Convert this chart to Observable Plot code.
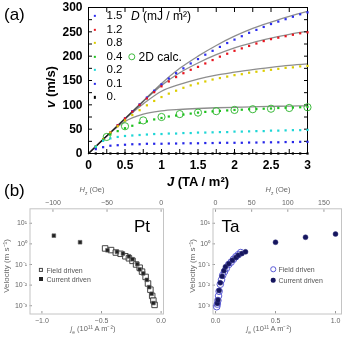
<!DOCTYPE html>
<html><head><meta charset="utf-8">
<script src="https://cdn.jsdelivr.net/npm/d3@7"></script>
<script src="https://cdn.jsdelivr.net/npm/@observablehq/plot@0.6"></script>
<style>
html,body{margin:0;padding:0;background:#fff;}
#root{position:relative;width:350px;height:338px;overflow:hidden;font-family:"Liberation Sans",Arial,sans-serif;color:#000;}
.abs{position:absolute;white-space:nowrap;line-height:1;}
#root svg{position:absolute;overflow:visible;}
</style></head><body><div id="root"></div>
<script>
// ---------- Panel (a) data ----------
const J = [0.1,0.2,0.3,0.4,0.5,0.6,0.7,0.8,0.9,1.0,1.1,1.2,1.3,1.4,1.5,1.6,1.7,1.8,1.9,2.0,2.1,2.2,2.3,2.4,2.5,2.6,2.7,2.8,2.9,3.0];
const v15 = [14,29,43,58,72,87,101,115,129,142,154,165,175,185,194,203,211,219,227,234,241,248,254,260,266,271,276,281,286,290];
const v12 = [14,29,43,58,72,86,100,113,126,138,148,157,165,172,178,185,192,199,205,211,216,221,226,231,235,238,241,244,247,249];
const v08 = [14,29,43,56,68,79,89,99,108,116,123,129,135,140,144,148,152,155,158,161,163,166,168,170,172,174,176,177,179,180];
const v04 = [14,28,39,46,52,57,63,66,70,73,76,78,80,82,84,85.5,86.5,87.5,88.5,89.5,90,91,91.5,92,92.5,93.5,94,94.5,95,96];
const v02 = [14,26,31,34,36,37,38,39,40,40,41,41,42,42,43,43,43.5,44,44,45,45,45.5,46,46,47,47,47.5,48,48,48.5];
const v01 = [9,13,16,17,18,19,19,20,20,20,20.5,20.5,21,21,21,21.5,21.5,22,22,22,22,22.5,22.5,23,23,23,23.5,23.5,24,24];
const v00 = [0,0,0,0,0,0,0,0,0,0,0,0,0,0,0,0,0,0,0,0,0,0,0,0,0,0,0,0,0,0];
const seriesLabels = ["1.5","1.2","0.8","0.4","0.2","0.1","0."];
const seriesColors = ["#2d2df0","#e8141e","#dccd00","#1fc21f","#1ed6d6","#2626e8","#000000"];
const seriesValues = [v15,v12,v08,v04,v02,v01,v00];

const lineJ = [0,0.25,0.5,0.75,1,1.25,1.5,1.75,2,2.25,2.5,2.75,3];
const line15 = [0,36,72,108,144,175,200,222,241,257,270,282,292];
const line12 = [0,36,72,107,140,166,186,203,217,228,237,245,251];
const line08 = [0,36,71,102,128,142,153,161,167,172.5,177,181,184];
const line04 = [0,36,66,81,87.5,90.5,92.5,94,95,96,96.8,97.4,98];

const calcJ = [0.25,0.5,0.75,1,1.25,1.5,1.75,2,2.25,2.5,2.75,3];
const calcV = [34,56,68,75,81,84,87,89.5,91,92,93.5,95];

const yTicksA = [0,50,100,150,200,250,300];
const xTicksA = [0,0.5,1,1.5,2,2.5,3];
const yMinorA = [25,50,75,100,125,150,175,200,225,250,275];
const xMinorA = [0.25,0.5,0.75,1,1.25,1.5,1.75,2,2.25,2.5,2.75];

// ---------- Panel (b) data ----------
const ptCurJ = [-0.9,-0.68,-0.45,-0.37,-0.32,-0.27,-0.24,-0.20,-0.18,-0.15,-0.12,-0.10,-0.08,-0.065];
const ptCurV = [2.5,1.2,0.49,0.41,0.34,0.25,0.18,0.105,0.058,0.037,0.018,0.008,0.0038,0.00135];
const ptFieldJ = [-0.47,-0.42,-0.38,-0.34,-0.30,-0.27,-0.24,-0.21,-0.18,-0.16,-0.13,-0.11,-0.09,-0.075,-0.065,-0.055];
const ptFieldV = [0.6,0.5,0.38,0.33,0.25,0.2,0.15,0.1,0.07,0.045,0.025,0.012,0.006,0.003,0.0018,0.0011];
const taCurJ = [0.015,0.02,0.03,0.04,0.055,0.07,0.083,0.11,0.14,0.17,0.19,0.22,0.25,0.5,0.75,1.0];
const taCurV = [0.0013,0.0019,0.0055,0.013,0.027,0.05,0.078,0.11,0.16,0.22,0.28,0.34,0.41,1.2,2.1,3.0];
const taFieldJ = [0.01,0.015,0.02,0.025,0.03,0.04,0.05,0.06,0.075,0.09,0.11,0.13,0.15,0.17,0.19,0.21];
const taFieldV = [0.0009,0.0012,0.0018,0.003,0.005,0.011,0.018,0.03,0.045,0.065,0.1,0.13,0.18,0.24,0.3,0.38];

const logTicks = [1e-3,1e-2,1e-1,1,10];
const ptJTicks = [-1,-0.5,0];
const taJTicks = [0,0.5,1];
const ptHzTicks = [-100,-50,0];
const taHzTicks = [0,50,100,150];
const ptHzPerJ = 110.2;
const taHzPerJ = 166;
const legendB = ["Field driven","Current driven"];

// ---------- helpers ----------
const root = document.getElementById("root");
const rows = (xs, ys) => xs.map((x,i) => ({x, y: ys[i]}));
function put(node, left, top){ node.style.left = left+"px"; node.style.top = top+"px"; root.appendChild(node); }
function text(html, x, y, {size=12, weight="normal", color="#000", anchor="middle", rotate=0}={}) {
  const d = document.createElement("div");
  d.className = "abs";
  d.innerHTML = html;
  d.style.fontSize = size+"px";
  d.style.fontWeight = weight;
  d.style.color = color;
  const tx = anchor === "start" ? "0" : anchor === "end" ? "-100%" : "-50%";
  d.style.transform = `translate(${tx},-50%)` + (rotate ? ` rotate(${rotate}deg)` : "");
  put(d, x, y);
}
function swatch(x, y, {size=2.2, fill="#000", stroke="none", round=false, sw=1}={}) {
  const d = document.createElement("div");
  d.className = "abs";
  d.style.width = size+"px"; d.style.height = size+"px";
  d.style.background = fill;
  d.style.boxSizing = "border-box";
  if (stroke !== "none") d.style.border = `${sw}px solid ${stroke}`;
  if (round) d.style.borderRadius = "50%";
  d.style.transform = "translate(-50%,-50%)";
  put(d, x, y);
}
const supMap = {"-":"⁻","0":"⁰","1":"¹","2":"²","3":"³"};
const logFmt = d => "10" + String(Math.round(Math.log10(d))).split("").map(c => supMap[c]).join("");
const minus = s => String(s).replace("-", "−");
const font = "Liberation Sans, Arial, sans-serif";

// ---------- Panel (a) ----------
const dotMarks = seriesValues.map((vals, k) =>
  Plot.dot(rows(J, vals), {x:"x", y:"y", fill: seriesColors[k], symbol:"square", r:1.25}));
const lineMarks = [line15, line12, line08, line04].map(vals =>
  Plot.line(rows(lineJ, vals), {x:"x", y:"y", stroke:"#8e8e8e", strokeWidth:1.3, curve:"monotone-x", mixBlendMode:"multiply"}));

const plotA = Plot.plot({
  width: 350, height: 185,
  marginLeft: 88, marginRight: 43, marginTop: 7, marginBottom: 32,
  x: {domain: [0,3], label: null},
  y: {domain: [0,300], label: null},
  style: {fontFamily: font, fontSize: "12px", background: "transparent", overflow: "visible", color: "#000"},
  marks: [
    Plot.axisY(yTicksA, {anchor:"left", tickSize:0, tickPadding:6, fontWeight:"bold", fontSize:12, label:null}),
    Plot.axisX(xTicksA, {anchor:"bottom", tickSize:0, tickPadding:7, tickFormat: d => String(d), fontWeight:"bold", fontSize:12, label:null}),
    Plot.axisY(yMinorA, {anchor:"left", tickSize:-4, fill:null, label:null}),
    Plot.axisY(yMinorA, {anchor:"right", tickSize:-4, fill:null, label:null}),
    Plot.axisX(xMinorA, {anchor:"top", tickSize:-4, fill:null, label:null}),
    Plot.axisX(xMinorA, {anchor:"bottom", tickSize:-4, fill:null, label:null}),
    ...lineMarks,
    Plot.frame({stroke:"#000", strokeWidth:1}),
    Plot.dot(rows(calcJ, calcV), {x:"x", y:"y", r:3.6, stroke:"#3dba3d", strokeWidth:1, fill:"none"}),
    ...dotMarks
  ]
});
plotA.style.left = "0px"; plotA.style.top = "0px";
root.appendChild(plotA);

text("(a)", 4, 14, {size:17, anchor:"start"});
text("<i>v</i> (m/s)", 50, 87, {size:13, weight:"bold", rotate:-90});
text("<i>J</i> (TA / m²)", 198, 181, {size:13, weight:"bold"});
seriesLabels.forEach((lab, i) => {
  const yc = 16 + i*13.55;
  swatch(95, yc, {size:2.3, fill: seriesColors[i]});
  text(lab, 106.5, yc, {size:11.5, anchor:"start"});
});
text("<i>D</i> (mJ / m²)", 131, 16, {size:12, anchor:"start"});
swatch(131.5, 57, {size:7.4, fill:"transparent", stroke:"#3dba3d", round:true});
text("2D calc.", 138.5, 57, {size:12, anchor:"start"});

// ---------- Panel (b) ----------
function panelB({left, width, mLeft, mRight, xDomain, jTicks, hzTicks, hzPerJ, field, current, isTa}) {
  const grey = "#666";
  const p = Plot.plot({
    width, height: 158,
    marginLeft: mLeft, marginRight: mRight, marginTop: 28.3, marginBottom: 24.5,
    x: {domain: xDomain, label: null},
    y: {type: "log", domain: [10**-3.4, 10**1.7], label: null},
    style: {fontFamily: font, fontSize: "7px", background: "transparent", overflow: "visible", color: grey},
    marks: [
      Plot.axisY(logTicks, {anchor:"left", tickSize:0, tickPadding:3, tickFormat: logFmt, fontSize:7, fill:grey, label:null}),
      Plot.axisY(logTicks, {anchor:"left", tickSize:-2.5, fill:null, stroke:"#999", label:null}),
      Plot.axisX(jTicks, {anchor:"bottom", tickSize:0, tickPadding:4, tickFormat: d => minus(d3.format(".1f")(d)), fontSize:7, fill:grey, label:null}),
      Plot.axisX(jTicks, {anchor:"bottom", tickSize:-2.5, fill:null, stroke:"#999", label:null}),
      Plot.axisX(hzTicks.map(h => h/hzPerJ), {anchor:"top", tickSize:0, tickPadding:4, tickFormat: d => minus(Math.round(d*hzPerJ)), fontSize:7, fill:grey, label:null}),
      Plot.axisX(hzTicks.map(h => h/hzPerJ), {anchor:"top", tickSize:-2.5, fill:null, stroke:"#999", label:null}),
      Plot.frame({stroke:"#c4c4c4"}),
      isTa
        ? Plot.dot(field, {x:"x", y:"y", r:3.3, stroke:"#5b5bd6", strokeWidth:1, fill:"none"})
        : Plot.dot(field, {x:"x", y:"y", symbol:"square", r:3.1, stroke:"#333", strokeWidth:0.9, fill:"white", fillOpacity:0.6}),
      isTa
        ? Plot.dot(current, {x:"x", y:"y", r:2.5, fill:"#15155e", stroke:"#3a3a80", strokeWidth:0.5})
        : Plot.dot(current, {x:"x", y:"y", symbol:"square", r:2.1, fill:"#222", stroke:"#666", strokeWidth:0.6})
    ]
  });
  p.style.left = left+"px"; p.style.top = "180px";
  root.appendChild(p);
}
panelB({left:0, width:170, mLeft:29.5, mRight:7, xDomain:[-1.1,0.02], jTicks:ptJTicks, hzTicks:ptHzTicks, hzPerJ:ptHzPerJ,
  field: rows(ptFieldJ, ptFieldV), current: rows(ptCurJ, ptCurV), isTa:false});
panelB({left:175, width:175, mLeft:37.5, mRight:9, xDomain:[-0.021,1.05], jTicks:taJTicks, hzTicks:taHzTicks, hzPerJ:taHzPerJ,
  field: rows(taFieldJ, taFieldV), current: rows(taCurJ, taCurV), isTa:true});

const gl = "#666";
text("(b)", 4, 190, {size:17, anchor:"start"});
text("<i>H</i><sub style='font-size:5px'>z</sub> (Oe)", 92, 191, {size:7.5, color:gl});
text("<i>H</i><sub style='font-size:5px'>z</sub> (Oe)", 278, 191, {size:7.5, color:gl});
text("<i>j</i><sub style='font-size:5px'>e</sub> (10¹¹ A m⁻²)", 93, 330, {size:7.5, color:gl});
text("<i>j</i><sub style='font-size:5px'>e</sub> (10¹¹ A m⁻²)", 269, 330, {size:7.5, color:gl});
text("Velocity (m s⁻¹)", 7, 266, {size:8, color:gl, rotate:-90});
text("Velocity (m s⁻¹)", 193, 266, {size:8, color:gl, rotate:-90});
text("Pt", 134, 226, {size:17, anchor:"start"});
text("Ta", 221.5, 226, {size:17, anchor:"start"});
// legends
swatch(40.7, 269.7, {size:4.2, fill:"#fff", stroke:"#444", sw:0.9});
text(legendB[0], 46.5, 269.7, {size:7, color:"#555", anchor:"start"});
swatch(40.7, 278.7, {size:4, fill:"#222"});
text(legendB[1], 46.5, 278.7, {size:7, color:"#555", anchor:"start"});
swatch(273.3, 269.3, {size:5.5, fill:"transparent", stroke:"#5b5bd6", round:true, sw:0.9});
text(legendB[0], 278.5, 269.3, {size:7, color:"#555", anchor:"start"});
swatch(273.3, 280, {size:4.6, fill:"#15155e", round:true});
text(legendB[1], 278.5, 280, {size:7, color:"#555", anchor:"start"});
</script>
</body></html>
